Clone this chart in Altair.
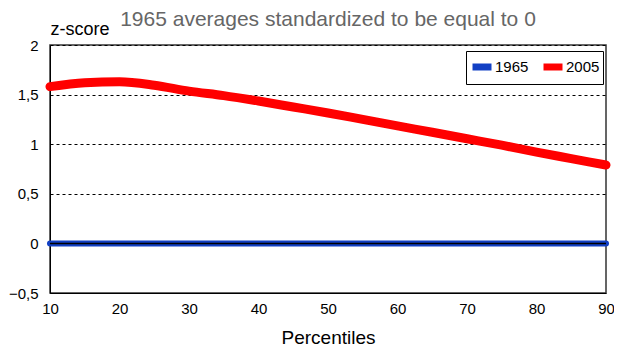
import altair as alt
import pandas as pd

percentiles = [10, 15, 20, 25, 30, 35, 40, 45, 50, 55, 60, 65, 70, 75, 80, 85, 90]
z1965 = [0] * len(percentiles)
z2005 = [1.58, 1.62, 1.63, 1.595, 1.535, 1.49, 1.435, 1.375, 1.315, 1.25, 1.185, 1.12, 1.055, 0.99, 0.92, 0.855, 0.79]
series = ["1965", "2005"]
colors = ["#1240c4", "#ff0000"]
y_ticks = [-0.5, 0, 0.5, 1, 1.5, 2]
x_ticks = [10, 20, 30, 40, 50, 60, 70, 80, 90]

df = pd.DataFrame({
    "p": percentiles * 2,
    "z": z1965 + z2005,
    "s": ["1965"] * len(percentiles) + ["2005"] * len(percentiles),
})

FONT = "Liberation Sans"

x = alt.X("p:Q", scale=alt.Scale(domain=[10, 90], nice=False, zero=False),
          axis=alt.Axis(values=x_ticks, title="Percentiles", ticks=False, grid=False,
                        labelFontSize=15, titleFontSize=19, titleFontWeight="normal",
                        labelPadding=8, titlePadding=12, domainColor="black",
                        labelColor="black", titleColor="black", labelFont=FONT, titleFont=FONT,
                        labelFlush=False))
y = alt.Y("z:Q", scale=alt.Scale(domain=[-0.5, 2], nice=False),
          axis=alt.Axis(values=y_ticks, title="z-score", ticks=False, grid=True,
                        gridDash=[3, 3], gridColor="black", gridWidth=1,
                        labelExpr="replace(format(datum.value, ''), '.', ',')",
                        labelFontSize=15, titleFontSize=18, titleFontWeight="normal",
                        titleAngle=0, titleX=0, titleY=-11, titleAlign="left",
                        titleBaseline="alphabetic", labelPadding=12, domainColor="black",
                        labelColor="black", titleColor="black", labelFont=FONT, titleFont=FONT))

color = alt.Color("s:N", scale=alt.Scale(domain=series, range=colors),
                  legend=alt.Legend(title=None, orient="none", legendX=416, legendY=6,
                                    direction="horizontal", symbolType="stroke",
                                    symbolStrokeWidth=7, symbolSize=361,
                                    strokeColor="black", padding=3, labelFontSize=15,
                                    labelFont=FONT, labelColor="black", columnPadding=0,
                                    labelOffset=0, fillColor="white"))

base = alt.Chart(df)
blue = base.transform_filter("datum.s == '1965'").mark_line(strokeWidth=6, strokeCap="round").encode(x=x, y=y, color=color)
red = base.transform_filter("datum.s == '2005'").mark_line(strokeWidth=9, strokeCap="round", interpolate="monotone").encode(x=x, y=y, color=color)
zero = alt.Chart(pd.DataFrame({"z": [0]})).mark_rule(color="black", strokeWidth=1.5).encode(y="z:Q")

chart = alt.layer(blue, red, zero).properties(
    width=556, height=248,
    title=alt.TitleParams("1965 averages standardized to be equal to 0", fontSize=21,
                          color="#666", font=FONT, fontWeight="normal", offset=-10, anchor="middle"),
    autosize=alt.AutoSizeParams(type="none"),
    padding={"left": 42, "top": 37, "right": 8, "bottom": 56},
).configure_view(stroke="#333", strokeWidth=1.5)

chart.save("out.html", embed_options={"renderer": "svg", "actions": False})
